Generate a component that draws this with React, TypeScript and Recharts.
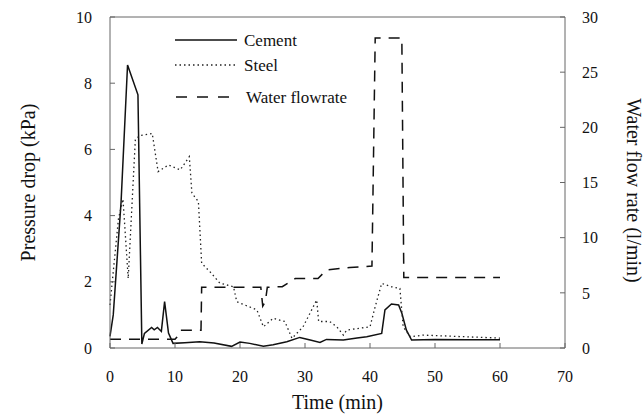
import { LineChart, Line, XAxis, YAxis, ReferenceLine } from 'recharts';

// time (min) / pressure drop (kPa)
const cementTime = [0, 0.5, 1.7, 2.7, 4.3, 4.9, 5.3, 6.4, 6.8, 7.3, 7.9, 8.4, 9.0, 9.7, 11.5, 13.8, 16, 18.7, 20.0, 21.5, 23.6, 25.1, 27.2, 29.2, 30.8, 32.3, 33.3, 35.9, 38, 39.5, 41.8, 42.3, 43.3, 44.4, 44.9, 45.6, 46.4, 50, 55, 60];
const cementDrop = [0.35, 1.0, 4.4, 8.55, 7.65, 0.12, 0.44, 0.62, 0.55, 0.62, 0.5, 1.4, 0.45, 0.14, 0.16, 0.19, 0.15, 0.05, 0.18, 0.14, 0.05, 0.1, 0.19, 0.32, 0.24, 0.17, 0.26, 0.24, 0.3, 0.34, 0.44, 1.15, 1.33, 1.3, 1.05, 0.54, 0.24, 0.26, 0.25, 0.25];

const steelTime = [0, 1.3, 2.0, 2.8, 3.9, 4.6, 6.5, 7.4, 9.0, 10.8, 12.2, 12.6, 13.6, 14.1, 15.4, 16.9, 19.0, 19.5, 22.6, 23.6, 25.1, 26.9, 28.0, 29.7, 31.8, 32.1, 33.8, 34.9, 35.9, 36.4, 40.0, 40.8, 41.8, 43.3, 44.6, 45.1, 46.2, 48.2, 52, 56, 60];
const steelDrop = [1.3, 3.9, 4.5, 2.1, 6.3, 6.42, 6.48, 5.33, 5.53, 5.38, 5.78, 4.68, 4.42, 2.56, 2.3, 1.96, 1.85, 1.4, 1.15, 0.64, 0.9, 0.8, 0.29, 0.64, 1.45, 0.8, 0.8, 0.64, 0.39, 0.54, 0.64, 1.25, 1.95, 1.85, 1.8, 0.64, 0.34, 0.39, 0.36, 0.33, 0.3];

// time (min) / water flow rate (l/min)
const waterTime = [0, 10, 10.3, 10.8, 14.0, 14.1, 23.2, 23.5, 23.9, 24.2, 26.5, 28.5, 32.0, 33.3, 36.9, 40.3, 40.8, 44.9, 45.2, 60];
const waterFlow = [0.8, 0.8, 1.0, 1.6, 1.6, 5.5, 5.5, 3.8, 4.2, 5.5, 5.56, 6.3, 6.3, 7.07, 7.3, 7.43, 28.1, 28.1, 6.4, 6.4];

const timeTicks = [0, 10, 20, 30, 40, 50, 60, 70];
const dropTicks = [0, 2, 4, 6, 8, 10];
const flowTicks = [0, 5, 10, 15, 20, 25, 30];

const cementData = cementTime.map((t, i) => ({ t, v: cementDrop[i] }));
const steelData = steelTime.map((t, i) => ({ t, v: steelDrop[i] }));
const waterData = waterTime.map((t, i) => ({ t, q: waterFlow[i] }));

const FONT = '"Liberation Serif", "Times New Roman", serif';
const tickStyle = { fill: '#111', fontSize: 16, fontFamily: FONT };
const titleStyle = { fill: '#111', fontSize: 20, fontFamily: FONT };
const axisStroke = { stroke: '#666' };

export default function App() {
  return (
    <div style={{ position: 'absolute', left: 0, top: 0, width: 644, height: 415, background: '#fff' }}>
      <LineChart width={644} height={415} margin={{ top: 17, right: 0, bottom: 0, left: 0 }}>
        {/* negative tickSize draws the ticks inside the frame */}
        <XAxis
          type="number"
          dataKey="t"
          domain={[0, 70]}
          ticks={timeTicks}
          height={67}
          tickSize={-5}
          tickMargin={28}
          tickLine={axisStroke}
          axisLine={axisStroke}
          tick={tickStyle}
          label={{ value: 'Time (min)', position: 'center', dy: 20, style: titleStyle }}
        />
        <YAxis
          yAxisId="left"
          domain={[0, 10]}
          ticks={dropTicks}
          width={110}
          tickSize={-5}
          tickMargin={23}
          tickLine={axisStroke}
          axisLine={axisStroke}
          tick={tickStyle}
          label={{ value: 'Pressure drop (kPa)', angle: -90, position: 'center', dx: -27, style: titleStyle }}
        />
        <YAxis
          yAxisId="right"
          orientation="right"
          domain={[0, 30]}
          ticks={flowTicks}
          width={79}
          tickSize={-5}
          tickMargin={22}
          tickLine={axisStroke}
          axisLine={axisStroke}
          tick={tickStyle}
          label={{ value: 'Water flow rate  (l/min)', angle: 90, position: 'center', dx: 30, dy: 8, style: titleStyle }}
        />
        <ReferenceLine yAxisId="left" y={10} stroke="#666" />
        <Line yAxisId="left" data={cementData} dataKey="v" type="linear" stroke="#111" strokeWidth={1.5} dot={false} isAnimationActive={false} />
        <Line yAxisId="left" data={steelData} dataKey="v" type="linear" stroke="#222" strokeWidth={1.3} strokeDasharray="1.5 3" dot={false} isAnimationActive={false} />
        <Line yAxisId="right" data={waterData} dataKey="q" type="linear" stroke="#111" strokeWidth={1.5} strokeDasharray="11 8" dot={false} isAnimationActive={false} />
      </LineChart>
      <svg width={220} height={80} style={{ position: 'absolute', left: 170, top: 28 }}>
        <line x1={5} x2={67} y1={12} y2={12} stroke="#111" strokeWidth={1.5} />
        <text x={74} y={12} dominantBaseline="central" fontSize={17} fontFamily={FONT} fill="#111">Cement</text>
        <line x1={5} x2={67} y1={37} y2={37} stroke="#222" strokeWidth={1.3} strokeDasharray="1.5 3" />
        <text x={74} y={37} dominantBaseline="central" fontSize={17} fontFamily={FONT} fill="#111">Steel</text>
        <line x1={6} x2={67} y1={69} y2={69} stroke="#111" strokeWidth={1.5} strokeDasharray="11 10" />
        <text x={76} y={69} dominantBaseline="central" fontSize={17} fontFamily={FONT} fill="#111">Water flowrate</text>
      </svg>
    </div>
  );
}
